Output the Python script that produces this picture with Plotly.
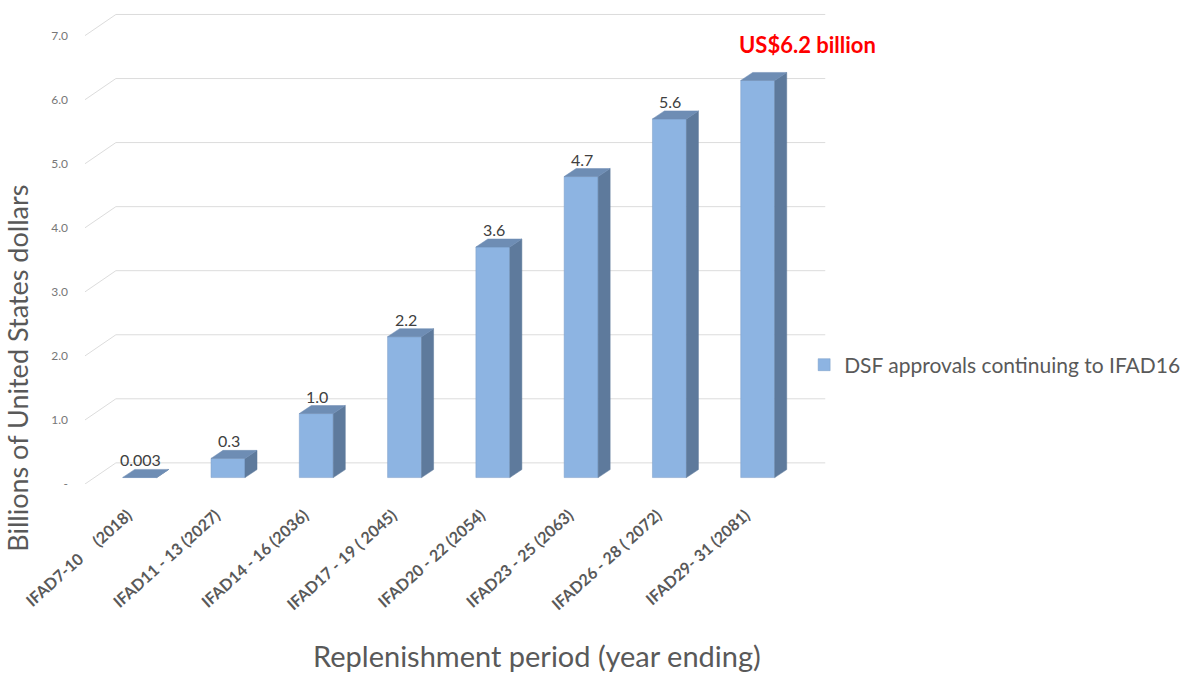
import plotly.graph_objects as go

categories = ["IFAD7-10\u00a0\u00a0\u00a0\u00a0\u00a0(2018)", "IFAD11 - 13 (2027)", "IFAD14 - 16 (2036)",
              "IFAD17 - 19 ( 2045)", "IFAD20 - 22 (2054)", "IFAD23 - 25 (2063)",
              "IFAD26 - 28 ( 2072)", "IFAD29- 31 (2081)"]
values = [0.003, 0.3, 1.0, 2.2, 3.6, 4.7, 5.6, 6.2]
value_labels = ["0.003", "0.3", "1.0", "2.2", "3.6", "4.7", "5.6", "US$6.2 billion"]
y_ticks = [0, 1, 2, 3, 4, 5, 6, 7]
y_tick_labels = ["-", "1.0", "2.0", "3.0", "4.0", "5.0", "6.0", "7.0"]
series_name = "DSF approvals continuing to IFAD16"

FRONT = "#8DB4E2"
SIDE = "#5E7A9C"
TOP = "#6E8DB4"
BW = 0.385
DDX, DDY = 0.136, 0.125   # bar depth (category units, value units)
GDX = 0.35                # floor depth for gridline diagonals
LBL_OFF = -0.1            # front-plane offset of the value scale
BACK_OFF = 0.23           # back-wall offset of the value scale
XMIN, XMAX = -0.62, 7.83
FONT = "Lato"

n = len(categories)
xs = list(range(n))

fig = go.Figure()

# back-wall gridlines + diagonals
shapes = []
for t in y_ticks:
    shapes.append(dict(type="line", xref="x", yref="y", x0=XMIN + GDX, x1=7.765,
                       y0=t + BACK_OFF, y1=t + BACK_OFF,
                       line=dict(color="#DCDCDC", width=1), layer="below"))
    shapes.append(dict(type="line", xref="x", yref="y", x0=XMIN, x1=XMIN + GDX,
                       y0=t + LBL_OFF, y1=t + BACK_OFF,
                       line=dict(color="#DCDCDC", width=1), layer="below"))

# side and top faces
sx, sy, tx, ty = [], [], [], []
for i, v in zip(xs, values):
    xr = i + BW / 2
    xl = i - BW / 2
    sx += [xr, xr + DDX, xr + DDX, xr, xr, None]
    sy += [0, DDY, v + DDY, v, 0, None]
    tx += [xl, xl + DDX, xr + DDX, xr, xl, None]
    ty += [v, v + DDY, v + DDY, v, v, None]

fig.add_trace(go.Scatter(x=sx, y=sy, mode="lines", fill="toself", fillcolor=SIDE,
                         line=dict(color=SIDE, width=0.5), showlegend=False, hoverinfo="skip"))
fig.add_trace(go.Scatter(x=tx, y=ty, mode="lines", fill="toself", fillcolor=TOP,
                         line=dict(color=TOP, width=0.5), showlegend=False, hoverinfo="skip"))
fig.add_trace(go.Bar(x=xs, y=values, width=BW,
                     marker=dict(color=FRONT, line=dict(color="#7A9CC6", width=0.5)),
                     name=series_name, showlegend=True))

annotations = []
for i, (v, lab) in enumerate(zip(values, value_labels)):
    last = i == n - 1
    annotations.append(dict(
        x=i, y=v + DDY, xref="x", yref="y", text=lab, showarrow=False,
        yanchor="bottom", yshift=(12 if last else -2), xshift=(50 if last else 1),
        font=dict(family=FONT, size=(22 if last else 16), color=("#FF0000" if last else "#404040"),
                  weight=("bold" if last else "normal"))))

annotations.append(dict(text="Billions of United States dollars", xref="paper", yref="paper",
                        x=-0.09, y=0.245, xanchor="center", yanchor="middle", textangle=-90,
                        showarrow=False, font=dict(family=FONT, size=27, color="#595959")))
annotations.append(dict(text="Replenishment period (year ending)", xref="paper", yref="paper",
                        x=0.606, y=-0.361, xanchor="center", yanchor="middle",
                        showarrow=False, font=dict(family=FONT, size=29, color="#595959")))

fig.update_layout(
    width=1199, height=676,
    margin=dict(l=85, r=368, t=10, b=192),
    plot_bgcolor="white", paper_bgcolor="white",
    shapes=shapes, annotations=annotations,
    legend=dict(x=0.964, y=0.251, xanchor="left", yanchor="middle",
                font=dict(family=FONT, size=21, color="#595959"), bgcolor="rgba(0,0,0,0)"),
    xaxis=dict(range=[XMIN, XMAX], tickvals=xs, ticktext=categories, tickangle=-42,
               showgrid=False, zeroline=False, showline=False, ticks="",
               ticklabelshift=-12, ticklabelstandoff=18,
               tickfont=dict(family=FONT, size=16, color="#595959", weight="bold")),
    yaxis=dict(range=[-0.1, 7.3], tickvals=[t + LBL_OFF for t in y_ticks], ticktext=y_tick_labels,
               showgrid=False, zeroline=False, showline=False, ticks="",
               ticklabelstandoff=16,
               tickfont=dict(family=FONT, size=12, color="#777777")),
)

fig.write_html("out.html")
